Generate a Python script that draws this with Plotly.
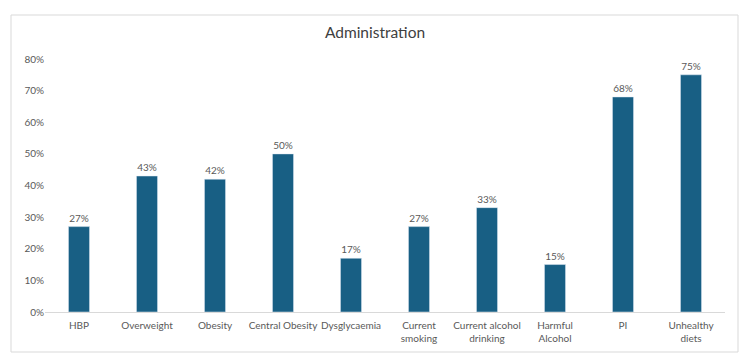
import plotly.graph_objects as go

categories = ["HBP", "Overweight", "Obesity", "Central Obesity", "Dysglycaemia",
              "Current<br>smoking", "Current alcohol<br>drinking", "Harmful<br>Alcohol",
              "PI", "Unhealthy<br>diets"]
values = [27, 43, 42, 50, 17, 27, 33, 15, 68, 75]
y_ticks = [0, 10, 20, 30, 40, 50, 60, 70, 80]
y_tick_labels = [f"{v}%" for v in y_ticks]

font_family = "Lato, 'Open Sans', sans-serif"
grey = "#595959"

fig = go.Figure(go.Bar(
    x=categories, y=values,
    marker_color="#185f84",
    text=[f"{v}%" for v in values],
    textposition="outside",
    textfont=dict(size=10, color=grey, family=font_family),
    cliponaxis=False,
))

L, R, T, B = 45, 25, 59, 51
W, H = 750, 363
pw, ph = W - L - R, H - T - B

fig.update_layout(
    width=W, height=H,
    margin=dict(l=L, r=R, t=T, b=B, autoexpand=False),
    paper_bgcolor="white", plot_bgcolor="white",
    bargap=0.69,
    showlegend=False,
    title=dict(text="Administration", x=0.5, xanchor="center", y=1 - 33 / H, yanchor="middle",
               font=dict(size=15.5, color="#404040", family=font_family)),
    font=dict(family=font_family, color=grey, size=10),
    xaxis=dict(showline=True, linecolor="#d9d9d9", linewidth=1, ticks="", automargin=False,
               tickfont=dict(size=10, color=grey), showgrid=False, ticklabelstandoff=4),
    yaxis=dict(range=[0, 80], tickvals=y_ticks, ticktext=y_tick_labels, showgrid=False,
               automargin=False, zeroline=False, showline=False, ticks="",
               tickfont=dict(size=10, color=grey)),
    shapes=[dict(type="rect", xref="paper", yref="paper",
                 x0=(11 - L) / pw, x1=(738 - L) / pw,
                 y0=(H - B - 352) / ph, y1=(H - B - 15) / ph,
                 line=dict(color="#d9d9d9", width=1), layer="below")],
)

fig.write_html("out.html", config={"displayModeBar": False},
               post_script="document.body.style.margin='0';document.body.style.overflow='hidden';")
